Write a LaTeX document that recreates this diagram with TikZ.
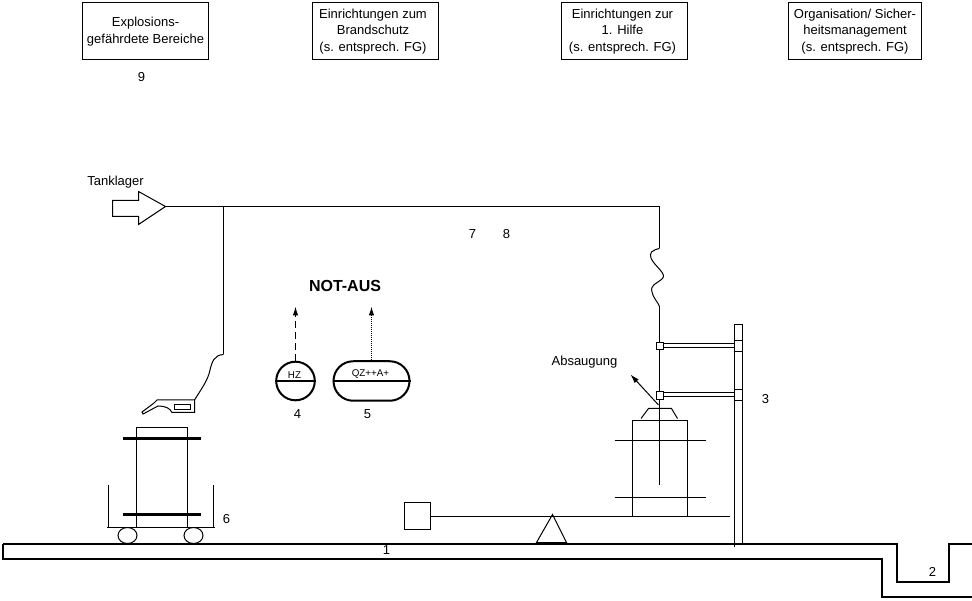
\documentclass[tikz,border=0pt]{standalone}
\usepackage{fontspec}
\setmainfont{Liberation Sans}
\usetikzlibrary{arrows, arrows.meta}
\usetikzlibrary{shapes.misc, shapes.geometric}
\tikzset{
  x=1pt, y=-1pt,
  every node/.style={font=\fontsize{13}{16.5}\selectfont},
  infobox/.style={rectangle, draw, line width=1pt, minimum height=57pt, inner sep=0pt, align=center},
  nummer/.style={inner sep=0pt},
  klein/.style={inner sep=0pt, font=\fontsize{9.8}{10}\selectfont},
  thin line/.style={line width=1pt},
  bold line/.style={line width=2pt},
  heavy line/.style={line width=3pt},
  spitze/.style={-{Latex[length=9pt, width=5.5pt]}},
}
\begin{document}
\begin{tikzpicture}
      \useasboundingbox (-0.5,-0.5) rectangle (971.5,600.5);

      % boxes on top
      \node[infobox, minimum width=126pt] (explosion) at (145,31) {Explosions-\\gefährdete Bereiche};
      \node[infobox, minimum width=126pt] (brand) at (375,31) {\hspace*{-5pt}Einrichtungen zum\\\hspace*{-5pt}Brandschutz\\\hspace*{-5pt}(s. entsprech. FG)};
      \node[infobox, minimum width=126pt] (hilfe) at (624,31) {\hspace*{-4pt}Einrichtungen zur\\\hspace*{-4pt}1. Hilfe\\\hspace*{-4pt}(s. entsprech. FG)};
      \node[infobox, minimum width=133pt] (orga) at (854.5,31) {Organisation/ Sicher-\\heitsmanagement\\(s. entsprech. FG)};

      % numbers
      \node[nummer] (9) at (141,77) {9};
      \node[nummer] (7) at (472,234) {7};
      \node[nummer] (8) at (506,234) {8};
      \node[nummer] (4) at (297,414) {4};
      \node[nummer] (5) at (367,414) {5};
      \node[nummer] (3) at (765,399) {3};
      \node[nummer] (6) at (226,519) {6};
      \node[nummer] (1) at (386,550) {1};
      \node[nummer] (2) at (932,571) {2};
      \node[nummer] (tanklager) at (115,182) {Tanklager};
      \node[nummer] (absaugung) at (584,362) {Absaugung};
      \node[nummer, font=\fontsize{16}{16}\selectfont\bfseries] (notaus) at (344.5,285) {NOT-AUS};

      \begin{scope}[xshift=-1pt, yshift=1pt]
      % ground
      \draw[bold line] (3.5,544.5) -- (897.5,544.5) -- (897.5,582.5) -- (949.5,582.5) -- (949.5,544.5) -- (973,544.5);
      \draw[bold line] (3.5,544.5) -- (3.5,559.5) -- (882.5,559.5) -- (882.5,597.5) -- (973,597.5);

      % tank arrow and pipe
      \draw[thin line, line join=miter] (113,201) -- (139,201) -- (139,192) -- (166,207) -- (139,225) -- (139,217) -- (113,217) -- cycle;
      \coordinate (tip) at (166,207);
      \coordinate (branch) at (224,207);
      \coordinate (corner) at (660,207);
      \coordinate (wave) at (660,249);
      \coordinate (wave2) at (660,307);
      \coordinate (pipeend) at (660,485);
      \draw[thin line] (tip) -- (corner) -- (wave);
      \draw[thin line] (wave) .. controls (652.5,250.5) and (649.5,253.5) .. (651.5,258.5) .. controls (654.5,266.5) and (668.5,274.5) .. (662.5,279.5) .. controls (656.5,284.5) and (650.5,285.5) .. (652.5,292.5) .. controls (653.5,298.5) and (658.5,302.5) .. (wave2);
      \draw[thin line] (wave2) -- (pipeend);

      % hose and nozzle
      \coordinate (hose) at (224,355);
      \coordinate (nozzle) at (195,400.5);
      \draw[thin line] (branch) -- (hose);
      \draw[thin line] (hose) .. controls (214.5,355.5) and (212.5,362.5) .. (210.5,370.5) .. controls (208.5,380.5) and (202.5,388.5) .. (nozzle);
      \draw[thin line] (nozzle) -- (195,413) -- (172.5,413) .. controls (170.5,408.5) and (165.5,406.5) .. (158.5,406.5) -- (143.5,414.5) -- (142.5,412.5) -- (154.5,403.5) -- (157.5,400.5) -- cycle;
      \draw[thin line] (175,405) rectangle (191,410);

      % cart
      \node[rectangle, draw, thin line, minimum width=51pt, minimum height=100pt, inner sep=0pt] (tank) at (162.5,478) {};
      \draw[heavy line] (123.5,439) -- (201.5,439);
      \draw[heavy line] (123.5,515) -- (201.5,515);
      \draw[thin line] (109,485) -- (109,528) (107,528) -- (215,528) (214,528) -- (214,485);
      \node[ellipse, draw, thin line, minimum width=19pt, minimum height=16pt, inner sep=0pt] (wheel1) at (128,536) {};
      \node[ellipse, draw, thin line, minimum width=19pt, minimum height=16pt, inner sep=0pt] (wheel2) at (194,536) {};

      % emergency stop
      \node[circle, draw, bold line, minimum size=38.6pt, inner sep=0pt] (hz) at (296,381.5) {};
      \node[rounded rectangle, draw, bold line, minimum width=76pt, minimum height=39.5pt, inner sep=0pt] (qz) at (372,381.5) {};
      \draw[bold line] (hz.west) -- (hz.east);
      \draw[bold line] (qz.west) -- (qz.east);
      \node[klein] (hztext) at (295,376) {HZ};
      \node[klein] (qztext) at (371,375) {QZ++A+};
      \coordinate (hzup) at (296,307);
      \coordinate (qzup) at (372,307);
      \draw[thin line, spitze, dashed, dash pattern=on 7pt off 4pt] (hz.north) -- (hzup);
      \draw[thin line, spitze, densely dotted] (qz.north) -- (qzup);

      % column
      \draw[thin line] (735,547) -- (735,325) -- (743,325) -- (743,544);
      \foreach \yt in {341,352,390,401}
        \draw[thin line] (734,\yt) -- (743,\yt);
      \draw[thin line] (664,344) -- (735,344);
      \draw[thin line] (664,348) -- (735,348);
      \draw[thin line] (664,393) -- (735,393);
      \draw[thin line] (664,397) -- (735,397);
      \node[rectangle, draw, thin line, fill=white, minimum width=7pt, minimum height=7pt, inner sep=0pt] (clamp1) at (660.5,346.5) {};
      \node[rectangle, draw, thin line, fill=white, minimum width=7pt, minimum height=8pt, inner sep=0pt] (clamp2) at (660.5,396) {};

      % suction
      \coordinate (saugfrom) at (659,405.5);
      \coordinate (saugto) at (631,375);
      \draw[thin line, spitze] (saugfrom) -- (saugto);

      % machine
      \node[rectangle, draw, thin line, minimum width=55pt, minimum height=96pt, inner sep=0pt] (machine) at (660.5,469) {};
      \draw[thin line] (641.5,419) -- (649,409) -- (672,409) -- (678,419);
      \draw[thin line] (615,441) -- (706,441);
      \draw[thin line] (615,498) -- (706,498);

      % beam
      \draw[thin line] (553,515) -- (537,543) -- (567,543) -- cycle;
      \draw[bold line] (537,543) -- (567,543);
      \node[rectangle, draw, thin line, minimum width=26pt, minimum height=27pt, inner sep=0pt] (weight) at (418,516.5) {};
      \coordinate (beamend) at (730,517);
      \draw[thin line] (weight.east |- beamend) -- (beamend);
      \end{scope}
\end{tikzpicture}
\end{document}
